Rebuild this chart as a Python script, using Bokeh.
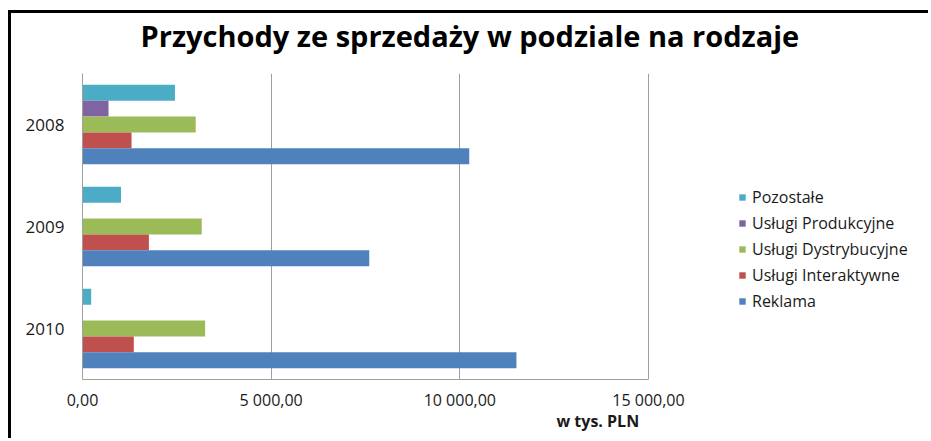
from bokeh.plotting import figure
from bokeh.models import (ColumnDataSource, FactorRange, Range1d, FixedTicker,
                          Legend, LegendItem, Title)
from bokeh.transform import dodge
from bokeh.embed import file_html
from bokeh.resources import INLINE

# ---- data ----
years = ["2008", "2009", "2010"]
reklama = [10250, 7600, 11500]
interaktywne = [1300, 1760, 1360]
dystrybucyjne = [3000, 3160, 3250]
produkcyjne = [690, 0, 0]
pozostale = [2450, 1020, 230]

series_names = ["Pozostałe", "Usługi Produkcyjne", "Usługi Dystrybucyjne",
                "Usługi Interaktywne", "Reklama"]
series_values = [pozostale, produkcyjne, dystrybucyjne, interaktywne, reklama]
series_colors = ["#4BACC6", "#8064A2", "#9BBB59", "#C0504D", "#4F81BD"]

x_ticks = [0, 5000, 10000, 15000]
x_tick_labels = ["0,00", "5 000,00", "10 000,00", "15 000,00"]

title_text = "Przychody ze sprzedaży w podziale na rodzaje"
x_axis_title = "w tys. PLN"

FONT = "Open Sans"

data = dict(year=years)
for i, vals in enumerate(series_values):
    data["s%d" % i] = vals
source = ColumnDataSource(data=data)

# layout (pixels)
W, H = 920, 428
LEFT, RIGHT, TOP, BOTTOM = 71, 0, 58, 62
axis_px = 566          # pixel length of the 0..15000 axis
frame_px = W - LEFT - RIGHT
x_end = x_ticks[-1] * frame_px / axis_px

p = figure(width=W, height=H, output_backend="svg", toolbar_location=None,
           y_range=FactorRange(factors=list(reversed(years))),
           x_range=Range1d(0, x_end),
           min_border_left=LEFT, min_border_right=RIGHT,
           min_border_top=TOP, min_border_bottom=BOTTOM)
p.styles = {"border-left": "3px solid black", "border-top": "3px solid black",
            "margin-top": "10px", "margin-left": "8px"}

bar_h = 0.156
offsets = [2 * bar_h, bar_h, 0.0, -bar_h, -2 * bar_h]
renderers = []
for i, (name, col, off) in enumerate(zip(series_names, series_colors, offsets)):
    r = p.hbar(y=dodge("year", off, range=p.y_range), right="s%d" % i, left=0,
               height=bar_h, source=source, fill_color=col, line_color=None)
    renderers.append((name, r))

legend = Legend(items=[LegendItem(label=n, renderers=[r]) for n, r in renderers],
                location=(656, 67), orientation="vertical",
                glyph_width=8, glyph_height=8, label_height=20, spacing=4,
                label_standoff=6, padding=0, margin=0,
                label_text_font=FONT, label_text_font_size="16px",
                label_text_color="#1a1a1a",
                border_line_color=None, background_fill_alpha=0)
p.add_layout(legend, "center")

p.outline_line_color = None
p.background_fill_color = "white"
p.border_fill_color = "white"

p.ygrid.grid_line_color = None
p.xgrid.ticker = FixedTicker(ticks=x_ticks)
p.xgrid.grid_line_color = "#a0a0a0"
p.xgrid.grid_line_width = 1

p.xaxis.ticker = FixedTicker(ticks=x_ticks)
p.xaxis.bounds = (x_ticks[0], x_ticks[-1])
p.xaxis.major_label_overrides = dict(zip(x_ticks, x_tick_labels))
p.xaxis.major_tick_line_color = None
p.xaxis.minor_tick_line_color = None
p.xaxis.axis_line_color = "#a0a0a0"
p.xaxis.major_label_text_font = FONT
p.xaxis.major_label_text_font_size = "16px"
p.xaxis.major_label_text_color = "#1a1a1a"
p.xaxis.major_label_standoff = 3

p.yaxis.major_tick_line_color = None
p.yaxis.minor_tick_line_color = None
p.yaxis.axis_line_color = "#a0a0a0"
p.yaxis.major_label_text_font = FONT
p.yaxis.major_label_text_font_size = "17px"
p.yaxis.major_label_text_color = "#1a1a1a"
p.yaxis.major_label_standoff = 12
p.yaxis.major_label_orientation = "horizontal"

# spacer between frame and title (empty-looking title, nearest the frame)
spacer = Title(text=" ", text_font=FONT, text_font_size="12px", standoff=0)
p.add_layout(spacer, "above")

main_title = Title(text=title_text, align="left", offset=58,
                   text_font=FONT, text_font_style="bold",
                   text_font_size="29px", text_color="black", standoff=0)
p.add_layout(main_title, "above")

x_title = Title(text=x_axis_title, align="left", offset=474,
                text_font=FONT, text_font_style="bold",
                text_font_size="16px", text_color="#1a1a1a", standoff=-12)
p.add_layout(x_title, "below")

open("out.html", "w").write(file_html(p, INLINE))
